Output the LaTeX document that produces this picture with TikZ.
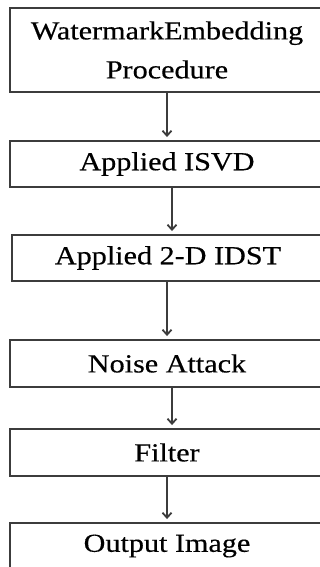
\documentclass[tikz,border=0pt]{standalone}
\usepackage{fontspec}
\setmainfont{Liberation Serif}[FakeStretch=1.16, FakeBold=0.4]
\usetikzlibrary{arrows.meta}
\definecolor{boxline}{HTML}{3C3C3C}

\begin{document}
\begin{tikzpicture}[x=1pt, y=-1pt,
    stagebox/.style={draw=boxline, line width=1.9pt, minimum width=314pt, minimum height=46pt, inner sep=0pt, align=center, font=\fontsize{26}{39}\selectfont},
    flowarrow/.style={draw=boxline, line width=1.6pt, -{Straight Barb[length=5pt, width=9pt, line width=1.8pt]}, shorten >=3pt}]
    % Frame (boxes run off the right and bottom edges):
    \useasboundingbox (0, 0) rectangle (320, 567);
    \clip (0, 0) rectangle (320, 567);
    % Boxes:
    \node[stagebox, minimum height=84pt](N1) at (167, 50){WatermarkEmbedding\\Procedure};
    \node[stagebox](N2) at (167, 164){Applied ISVD};
    \node[stagebox, minimum width=312pt](N3) at (168, 258){Applied 2-D IDST};
    \node[stagebox, minimum height=47pt](N4) at (167, 363.5){Noise Attack};
    \node[stagebox, minimum height=47pt](N5) at (167, 452.5){Filter};
    \node[stagebox](N6) at (167, 546){Output Image};
    % Arrows:
    \draw[flowarrow] (N1.south) -- (N2.north);
    \draw[flowarrow] ([xshift=5pt]N2.south) -- ([xshift=4pt]N3.north);
    \draw[flowarrow] ([xshift=-1pt]N3.south) -- (N4.north);
    \draw[flowarrow] ([xshift=5pt]N4.south) -- ([xshift=5pt]N5.north);
    \draw[flowarrow] (N5.south) -- (N6.north);
\end{tikzpicture}
\end{document}
